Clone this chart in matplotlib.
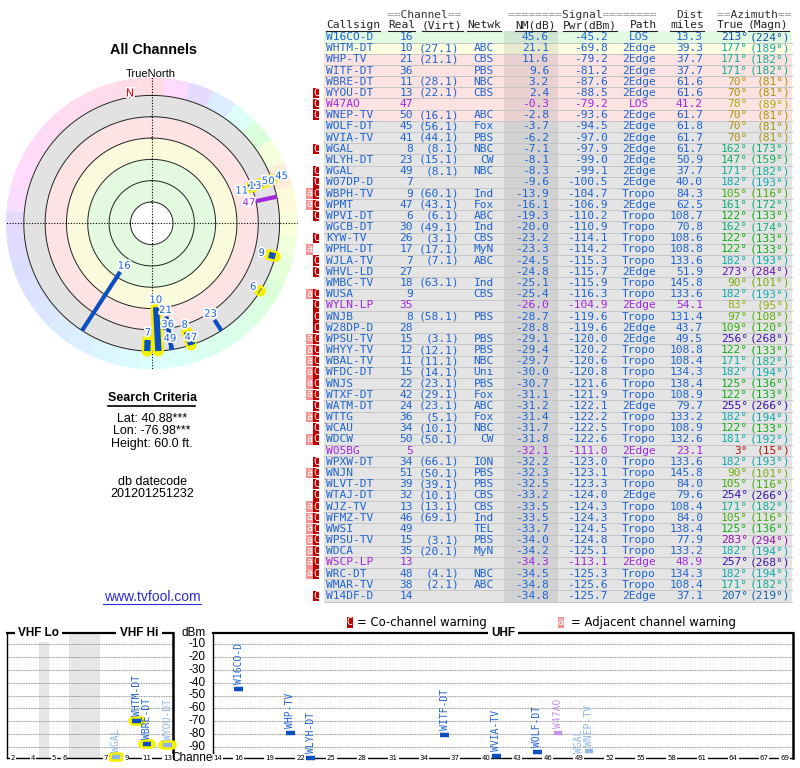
import colorsys
import numpy as np
import matplotlib
matplotlib.use("Agg")
import matplotlib.pyplot as plt
import matplotlib.patheffects as pe
from matplotlib.patches import Rectangle

# ---- station table ----
callsigns = ["W16CO-D", "WHTM-DT", "WHP-TV", "WITF-DT", "WBRE-DT", "WYOU-DT", "W47AO",
             "WNEP-TV", "WOLF-DT", "WVIA-TV", "WGAL", "WLYH-DT", "WGAL", "W07DP-D",
             "WBPH-TV", "WPMT", "WPVI-DT", "WGCB-DT", "KYW-TV", "WPHL-DT", "WJLA-TV",
             "WHVL-LD", "WMBC-TV", "WUSA", "WYLN-LP", "WNJB", "W28DP-D", "WPSU-TV",
             "WHYY-TV", "WBAL-TV", "WFDC-DT", "WNJS", "WTXF-DT", "WATM-DT", "WTTG",
             "WCAU", "WDCW", "W05BG", "WPXW-DT", "WNJN", "WLVT-DT", "WTAJ-DT", "WJZ-TV",
             "WFMZ-TV", "WWSI", "WPSU-TV", "WDCA", "WSCP-LP", "WRC-DT", "WMAR-TV", "W14DF-D"]
real_ch = [16, 10, 21, 36, 11, 13, 47, 50, 45, 41, 8, 23, 49, 7, 9, 47, 6, 30, 26, 17, 7,
           27, 18, 9, 35, 8, 28, 15, 12, 11, 15, 22, 42, 24, 36, 34, 50, 5, 34, 51, 39, 32,
           13, 46, 49, 15, 35, 13, 48, 38, 14]
virt_ch = ["", "27.1", "21.1", "", "28.1", "22.1", "", "16.1", "56.1", "44.1", "8.1", "15.1",
           "8.1", "", "60.1", "43.1", "6.1", "49.1", "3.1", "17.1", "7.1", "", "63.1", "",
           "", "58.1", "", "3.1", "12.1", "11.1", "14.1", "23.1", "29.1", "23.1", "5.1",
           "10.1", "50.1", "", "66.1", "50.1", "39.1", "10.1", "13.1", "69.1", "", "3.1",
           "20.1", "", "4.1", "2.1", ""]
netwk = ["", "ABC", "CBS", "PBS", "NBC", "CBS", "", "ABC", "Fox", "PBS", "NBC", "CW", "NBC",
         "", "Ind", "Fox", "ABC", "Ind", "CBS", "MyN", "ABC", "", "Ind", "CBS", "", "PBS", "",
         "PBS", "PBS", "NBC", "Uni", "PBS", "Fox", "ABC", "Fox", "NBC", "CW", "", "ION", "PBS",
         "PBS", "CBS", "CBS", "Ind", "TEL", "PBS", "MyN", "", "NBC", "ABC", ""]
nm_db = [45.6, 21.1, 11.6, 9.6, 3.2, 2.4, -0.3, -2.8, -3.7, -6.2, -7.1, -8.1, -8.3, -9.6,
         -13.9, -16.1, -19.3, -20.0, -23.2, -23.3, -24.5, -24.8, -25.1, -25.4, -26.0, -28.7,
         -28.8, -29.1, -29.4, -29.7, -30.0, -30.7, -31.1, -31.2, -31.4, -31.7, -31.8, -32.1,
         -32.2, -32.3, -32.5, -33.2, -33.5, -33.5, -33.7, -34.0, -34.2, -34.3, -34.5, -34.8,
         -34.8]
pwr_dbm = [-45.2, -69.8, -79.2, -81.2, -87.6, -88.5, -79.2, -93.6, -94.5, -97.0, -97.9,
           -99.0, -99.1, -100.5, -104.7, -106.9, -110.2, -110.9, -114.1, -114.2, -115.3,
           -115.7, -115.9, -116.3, -104.9, -119.6, -119.6, -120.0, -120.2, -120.6, -120.8,
           -121.6, -121.9, -122.1, -122.2, -122.5, -122.6, -111.0, -123.0, -123.1, -123.3,
           -124.0, -124.3, -124.3, -124.5, -124.8, -125.1, -113.1, -125.3, -125.6, -125.7]
path = ["LOS", "2Edge", "2Edge", "2Edge", "2Edge", "2Edge", "LOS", "2Edge", "2Edge", "2Edge",
        "2Edge", "2Edge", "2Edge", "2Edge", "Tropo", "2Edge", "Tropo", "Tropo", "Tropo",
        "Tropo", "Tropo", "2Edge", "Tropo", "Tropo", "2Edge", "Tropo", "2Edge", "2Edge",
        "Tropo", "Tropo", "Tropo", "Tropo", "Tropo", "2Edge", "Tropo", "Tropo", "Tropo",
        "2Edge", "Tropo", "Tropo", "Tropo", "2Edge", "Tropo", "Tropo", "Tropo", "Tropo",
        "Tropo", "2Edge", "Tropo", "Tropo", "2Edge"]
dist_mi = [13.3, 39.3, 37.7, 37.7, 61.6, 61.6, 41.2, 61.7, 61.8, 61.7, 61.7, 50.9, 37.7,
           40.0, 84.3, 62.5, 108.7, 70.8, 108.6, 108.8, 133.6, 51.9, 145.8, 133.6, 54.1,
           131.4, 43.7, 49.5, 108.8, 108.4, 134.3, 138.4, 108.9, 79.7, 133.2, 108.9, 132.6,
           23.1, 133.6, 145.8, 84.0, 79.6, 108.4, 84.0, 138.4, 77.9, 133.2, 48.9, 134.3,
           108.4, 37.1]
az_true = [213, 177, 171, 171, 70, 70, 78, 70, 70, 70, 162, 147, 171, 182, 105, 161, 122,
           162, 122, 122, 182, 273, 90, 182, 83, 97, 109, 256, 122, 171, 182, 125, 122, 255,
           182, 122, 181, 3, 182, 90, 105, 254, 171, 105, 125, 283, 182, 257, 182, 171, 207]
az_magn = [224, 189, 182, 182, 81, 81, 89, 81, 81, 81, 173, 159, 182, 193, 116, 172, 133,
           174, 133, 133, 193, 284, 101, 193, 95, 108, 120, 268, 133, 182, 194, 136, 133, 266,
           194, 133, 192, 15, 193, 101, 116, 266, 182, 116, 136, 294, 194, 268, 194, 182, 219]
warn = ["", "", "", "", "", "C", "C", "C", "", "", "C", "", "C", "C", "aC", "aC", "C", "",
        "C", "a", "C", "C", "", "aC", "C", "C", "C", "aC", "aC", "aC", "aC", "aC", "aC", "C",
        "aC", "C", "aC", "", "C", "aC", "C", "C", "aC", "aC", "aC", "aC", "aC", "aC", "aC",
        "", "C"]
low_power = [cs in ("W47AO", "WYLN-LP", "W05BG", "WSCP-LP") for cs in callsigns]

vhf_ticks = [2, 4, 5, 6, 7, 9, 11, 13]
uhf_ticks = [14, 16, 19, 22, 25, 28, 31, 34, 37, 40, 43, 46, 49, 52, 55, 58, 61, 64, 67, 69]
dbm_levels = [-10, -20, -30, -40, -50, -60, -70, -80, -90]
search_lines = ["Lat: 40.88***", "Lon: -76.98***", "Height: 60.0 ft."]
datecode = "201201251232"

# ---- layout / style ----
W, H = 800, 768
ROW0, ROW_H = 37.0, 11.18
MONO = "DejaVu Sans Mono"
SANS = "Liberation Sans"
BLUE = "#1e64d2"
PURPLE = "#a028dc"
BAR_BLUE = "#0a4fc0"
TFS = 8.1


def az_color(az, s=0.9, v=0.68):
    h = np.interp(az, [0, 70, 90, 120, 180, 213, 270, 283, 360],
                  [0, 50, 80, 120, 180, 215, 270, 290, 360]) / 360.0
    return colorsys.hsv_to_rgb(h % 1.0, s, v)


def row_fill(nm):
    if nm >= 40:
        return "#e2fae2"
    if nm >= 20:
        return "#fdfde0"
    if nm >= -3:
        return "#fde2e2"
    return "#e4e4e4"


fig = plt.figure(figsize=(W / 100, H / 100), dpi=100)
bg = fig.add_axes([0, 0, 1, 1])
bg.set_xlim(0, W)
bg.set_ylim(H, 0)
bg.axis("off")

# ---- left column texts ----
bg.text(153, 50, "All Channels", family=SANS, fontsize=10.4, fontweight="bold",
        ha="center", va="center")
bg.text(151, 74, "TrueNorth", family=SANS, fontsize=8, ha="center", va="center")
bg.text(152, 398, "Search Criteria", family=SANS, fontsize=9, fontweight="bold",
        ha="center", va="center")
bg.plot([108, 195], [405.5, 405.5], color="black", lw=1.2)
for k, line in enumerate(search_lines):
    bg.text(152, 419 + k * 12.5, line, family=SANS, fontsize=9, ha="center", va="center")
bg.text(152, 482, "db datecode", family=SANS, fontsize=9, ha="center", va="center")
bg.text(152, 494, datecode, family=SANS, fontsize=9, ha="center", va="center")
bg.text(152, 597, "www.tvfool.com", family=SANS, fontsize=10, color="#2b2bd6",
        ha="center", va="center")
bg.plot([103, 201], [603.5, 603.5], color="#2b2bd6", lw=0.8)

# ---- table header ----
hdr1 = [(387, "==       ==", "  Channel  "),
        (508, "========      ========", "        Signal        "),
        (676, "", "Dist"),
        (717, "==       ==", "  Azimuth  ")]
for x, eq, word in hdr1:
    if eq:
        bg.text(x, 15, eq, family=MONO, fontsize=TFS, color="#9a9a9a", va="center")
    bg.text(x, 15, word, family=MONO, fontsize=TFS, color="#333333", va="center")
hdr2 = [(326, "Callsign"), (388, "Real"), (422, "(Virt)"), (467, "Netwk"), (515, "NM(dB)"),
        (563, "Pwr(dBm)"), (630, "Path"), (670, "miles"), (717, "True"), (748, "(Magn)")]
for x, word in hdr2:
    bg.text(x, 25, word, family=MONO, fontsize=TFS, color="#222222", va="center")
    bg.plot([x, x + len(word) * 6.75], [30.8, 30.8], color="#222222", lw=0.8)

# ---- table rows ----
n = len(callsigns)
for i in range(n):
    y = ROW0 + i * ROW_H
    bg.add_patch(Rectangle((324, y - ROW_H / 2), 468, ROW_H, fc=row_fill(nm_db[i]), ec="none"))
    bg.plot([324, 792], [y + ROW_H / 2] * 2, color="#c6c6c6", lw=0.7)
bg.add_patch(Rectangle((504, ROW0 - ROW_H / 2), 54, n * ROW_H, fc="black", alpha=0.08,
                       ec="none"))

for i in range(n):
    y = ROW0 + i * ROW_H
    col = PURPLE if low_power[i] else BLUE
    kw = dict(family=MONO, fontsize=TFS, va="center", color=col)
    bg.text(326, y, callsigns[i], ha="left", **kw)
    bg.text(413, y, str(real_ch[i]), ha="right", **kw)
    if virt_ch[i]:
        bg.text(459, y, "(" + virt_ch[i] + ")", ha="right", **kw)
    bg.text(494, y, netwk[i], ha="right", **kw)
    bg.text(549, y, f"{nm_db[i]:.1f}", ha="right", **kw)
    bg.text(608, y, f"{pwr_dbm[i]:.1f}", ha="right", **kw)
    bg.text(639, y, path[i], ha="center", **kw)
    bg.text(703, y, f"{dist_mi[i]:.1f}", ha="right", **kw)
    ac = az_color(az_true[i])
    bg.text(748, y, f"{az_true[i]}°", ha="right", family=MONO, fontsize=TFS,
            va="center", color=ac)
    bg.text(790, y, f"({az_magn[i]}°)", ha="right", family=MONO, fontsize=TFS,
            va="center", color=ac)
    if "C" in warn[i]:
        bg.add_patch(Rectangle((312.6, y - 5.2), 6.8, 10.4, fc="#c00000", ec="none"))
        bg.text(316, y, "C", family=MONO, fontsize=7.2, color="white", ha="center", va="center")
    if "a" in warn[i]:
        bg.add_patch(Rectangle((305.8, y - 5.2), 6.8, 10.4, fc="#f29292", ec="none"))
        bg.text(309.2, y - 0.5, "a", family=MONO, fontsize=7.2, color="white", ha="center",
                va="center")

# ---- legend ----
bg.add_patch(Rectangle((346.5, 616.5), 6.5, 11.5, fc="#c00000", ec="none"))
bg.text(349.8, 622.2, "C", family=MONO, fontsize=7.2, color="white", ha="center", va="center")
bg.text(357, 622.5, "= Co-channel warning", family="DejaVu Sans", fontsize=8.4, va="center")
bg.add_patch(Rectangle((557.5, 616.5), 6.5, 11.5, fc="#f29292", ec="none"))
bg.text(560.8, 621.8, "a", family=MONO, fontsize=7.2, color="white", ha="center", va="center")
bg.text(571, 622.5, "= Adjacent channel warning", family="DejaVu Sans", fontsize=8.4,
        va="center")

# ---- polar plot ----
CX, CY, RPX = 151.7, 223.3, 146
RMAX = 137.0
pax = fig.add_axes([(CX - RPX) / W, 1 - (CY + RPX) / H, 2 * RPX / W, 2 * RPX / H],
                   projection="polar")
pax.set_theta_zero_location("N")
pax.set_theta_direction(-1)
pax.set_ylim(0, RMAX)
pax.axis("off")

nseg = 36
seg_c = np.arange(nseg) * 360.0 / nseg
ring_cols = [colorsys.hsv_to_rgb(np.interp(a, [0, 70, 90, 120, 180, 213, 270, 283, 360],
                                           [345, 30, 70, 120, 180, 205, 255, 300, 345]) / 360.0 % 1,
                                 0.14, 1.0) for a in seg_c]
pax.bar(np.radians(seg_c), RMAX - 120, width=np.radians(360.0 / nseg), bottom=120,
        color=ring_cols, edgecolor="none")
th = np.linspace(0, 2 * np.pi, 361)
bands = [(20, 60, "#e3f9e0"), (60, 80, "#fafbdc"), (80, 100, "#fde3e3"), (100, 120, "#e2e2e2")]
for r0, r1, c in bands:
    pax.fill_between(th, r0, r1, color=c, lw=0)
for r in [20, 40, 60, 80, 100, 120]:
    pax.plot(th, np.full_like(th, r), color="#222222", lw=0.7)
for t in [0, 90, 180, 270]:
    pax.plot([np.radians(t)] * 2, [0, RMAX], color="black", lw=0.8, ls=(0, (1, 1.5)))
pax.text(np.radians(-9.5), 123.5, "N", color="red", fontsize=8, family="DejaVu Sans",
         ha="center", va="center",
         path_effects=[pe.withStroke(linewidth=2.5, foreground="white")])

shown = [i for i in range(n) if nm_db[i] > -20]
for i in shown:
    if real_ch[i] <= 13:
        t = np.radians(az_true[i])
        pax.plot([t, t], [100 - nm_db[i], 120], color="#f5f000", lw=8,
                 solid_capstyle="round", zorder=3)
for i in shown:
    t = np.radians(az_true[i])
    c = PURPLE if low_power[i] else BAR_BLUE
    lw = 4.5 if real_ch[i] <= 13 else 3
    pax.plot([t, t], [100 - nm_db[i], 120], color=c, lw=lw, solid_capstyle="butt", zorder=4)

placed = []
for i in shown:
    t = np.radians(az_true[i])
    r = 100 - nm_db[i] - 7
    while any(np.hypot(r * np.sin(t) - r2 * np.sin(t2), r * np.cos(t) - r2 * np.cos(t2)) < 13
              for t2, r2 in placed):
        r += 0.5
    placed.append((t, r))
    if r > 132:
        continue
    pax.text(t, r, str(real_ch[i]), color=PURPLE if low_power[i] else BLUE, fontsize=7.3,
             family="DejaVu Sans", ha="center", va="center", zorder=6,
             path_effects=[pe.withStroke(linewidth=2.5, foreground="white")])

# ---- spectrum panels ----
YLO, YHI = -98.8, -1.2
vhf_slots = {2: 0, 3: 1, 4: 2, 5: 4, 6: 5, 7: 9, 8: 10, 9: 11, 10: 12, 11: 13, 12: 14, 13: 15}


def spec_axes(x0, x1, xlim):
    a = fig.add_axes([x0 / W, 1 - 758 / H, (x1 - x0) / W, 125 / H])
    a.set_xlim(*xlim)
    a.set_ylim(YLO, YHI)
    a.set_xticks([])
    a.set_yticks([])
    for s in a.spines.values():
        s.set_color("black")
        s.set_linewidth(1.0)
    a.spines["top"].set_linewidth(1.6)
    a.spines["right"].set_linewidth(1.8)
    for lv in dbm_levels:
        a.axhline(lv, color="#707070", lw=0.6, ls=(0, (1, 1)), zorder=1)
    return a


vhf = spec_axes(7, 173, (-0.55, 15.52))
uhf = spec_axes(213, 793, (13.51, 69.8))
vhf.axvspan(2.5, 3.5, color="#e6e6e6", lw=0, zorder=0)
vhf.axvspan(5.5, 8.5, color="#e6e6e6", lw=0, zorder=0)

tick_box = dict(fc="white", ec="none", pad=0.6)
for ch in vhf_ticks:
    vhf.text(vhf_slots[ch], YLO, str(ch), fontsize=5, ha="center", va="center",
             bbox=tick_box, zorder=5, clip_on=False)
for ch in uhf_ticks:
    uhf.text(ch, YLO, str(ch), fontsize=5, ha="center", va="center",
             bbox=tick_box, zorder=5, clip_on=False)

title_box = dict(fc="white", ec="none", pad=2.5)
vhf.text(0.19, 1.0, "VHF Lo", transform=vhf.transAxes, family=SANS, fontsize=8.5,
         fontweight="bold", ha="center", va="center", bbox=title_box, zorder=5)
vhf.text(0.795, 1.0, "VHF Hi", transform=vhf.transAxes, family=SANS, fontsize=8.5,
         fontweight="bold", ha="center", va="center", bbox=title_box, zorder=5)
uhf.text(0.5, 1.0, "UHF", transform=uhf.transAxes, family=SANS, fontsize=8.5,
         fontweight="bold", ha="center", va="center", bbox=title_box, zorder=5)

for lv in dbm_levels:
    uhf.text(-0.013, lv, str(lv), transform=uhf.get_yaxis_transform(), family=SANS,
             fontsize=8.5, ha="right", va="center")
uhf.text(-0.033, 1.0, "dBm", transform=uhf.transAxes, family=SANS, fontsize=8.5,
         ha="center", va="center")
uhf.text(-0.033, 0.0, "Channel", transform=uhf.transAxes, family=SANS, fontsize=8.5,
         ha="center", va="center")

for i in range(n):
    if nm_db[i] <= -9:
        continue
    ch = real_ch[i]
    a, x = (vhf, vhf_slots[ch]) if ch <= 13 else (uhf, ch)
    faded = "C" in warn[i]
    if low_power[i]:
        mc, tc = ("#c890e8", "#c890e8") if faded else (PURPLE, PURPLE)
    else:
        mc, tc = ("#8fb6e8", "#8fb6e8") if faded else (BAR_BLUE, BLUE)
    if ch <= 13:
        a.plot([x - 0.4, x + 0.4], [pwr_dbm[i]] * 2, color="#f5f000", lw=7,
               solid_capstyle="round", zorder=3, clip_on=False)
    a.plot([x - 0.42, x + 0.42], [pwr_dbm[i]] * 2, color=mc, lw=3.2,
           solid_capstyle="butt", zorder=4, clip_on=False)
    a.text(x, pwr_dbm[i] + 4, callsigns[i], rotation=90, family=MONO, fontsize=7,
           color=tc, ha="center", va="bottom", zorder=4)

fig.savefig("out.png", dpi=100)
